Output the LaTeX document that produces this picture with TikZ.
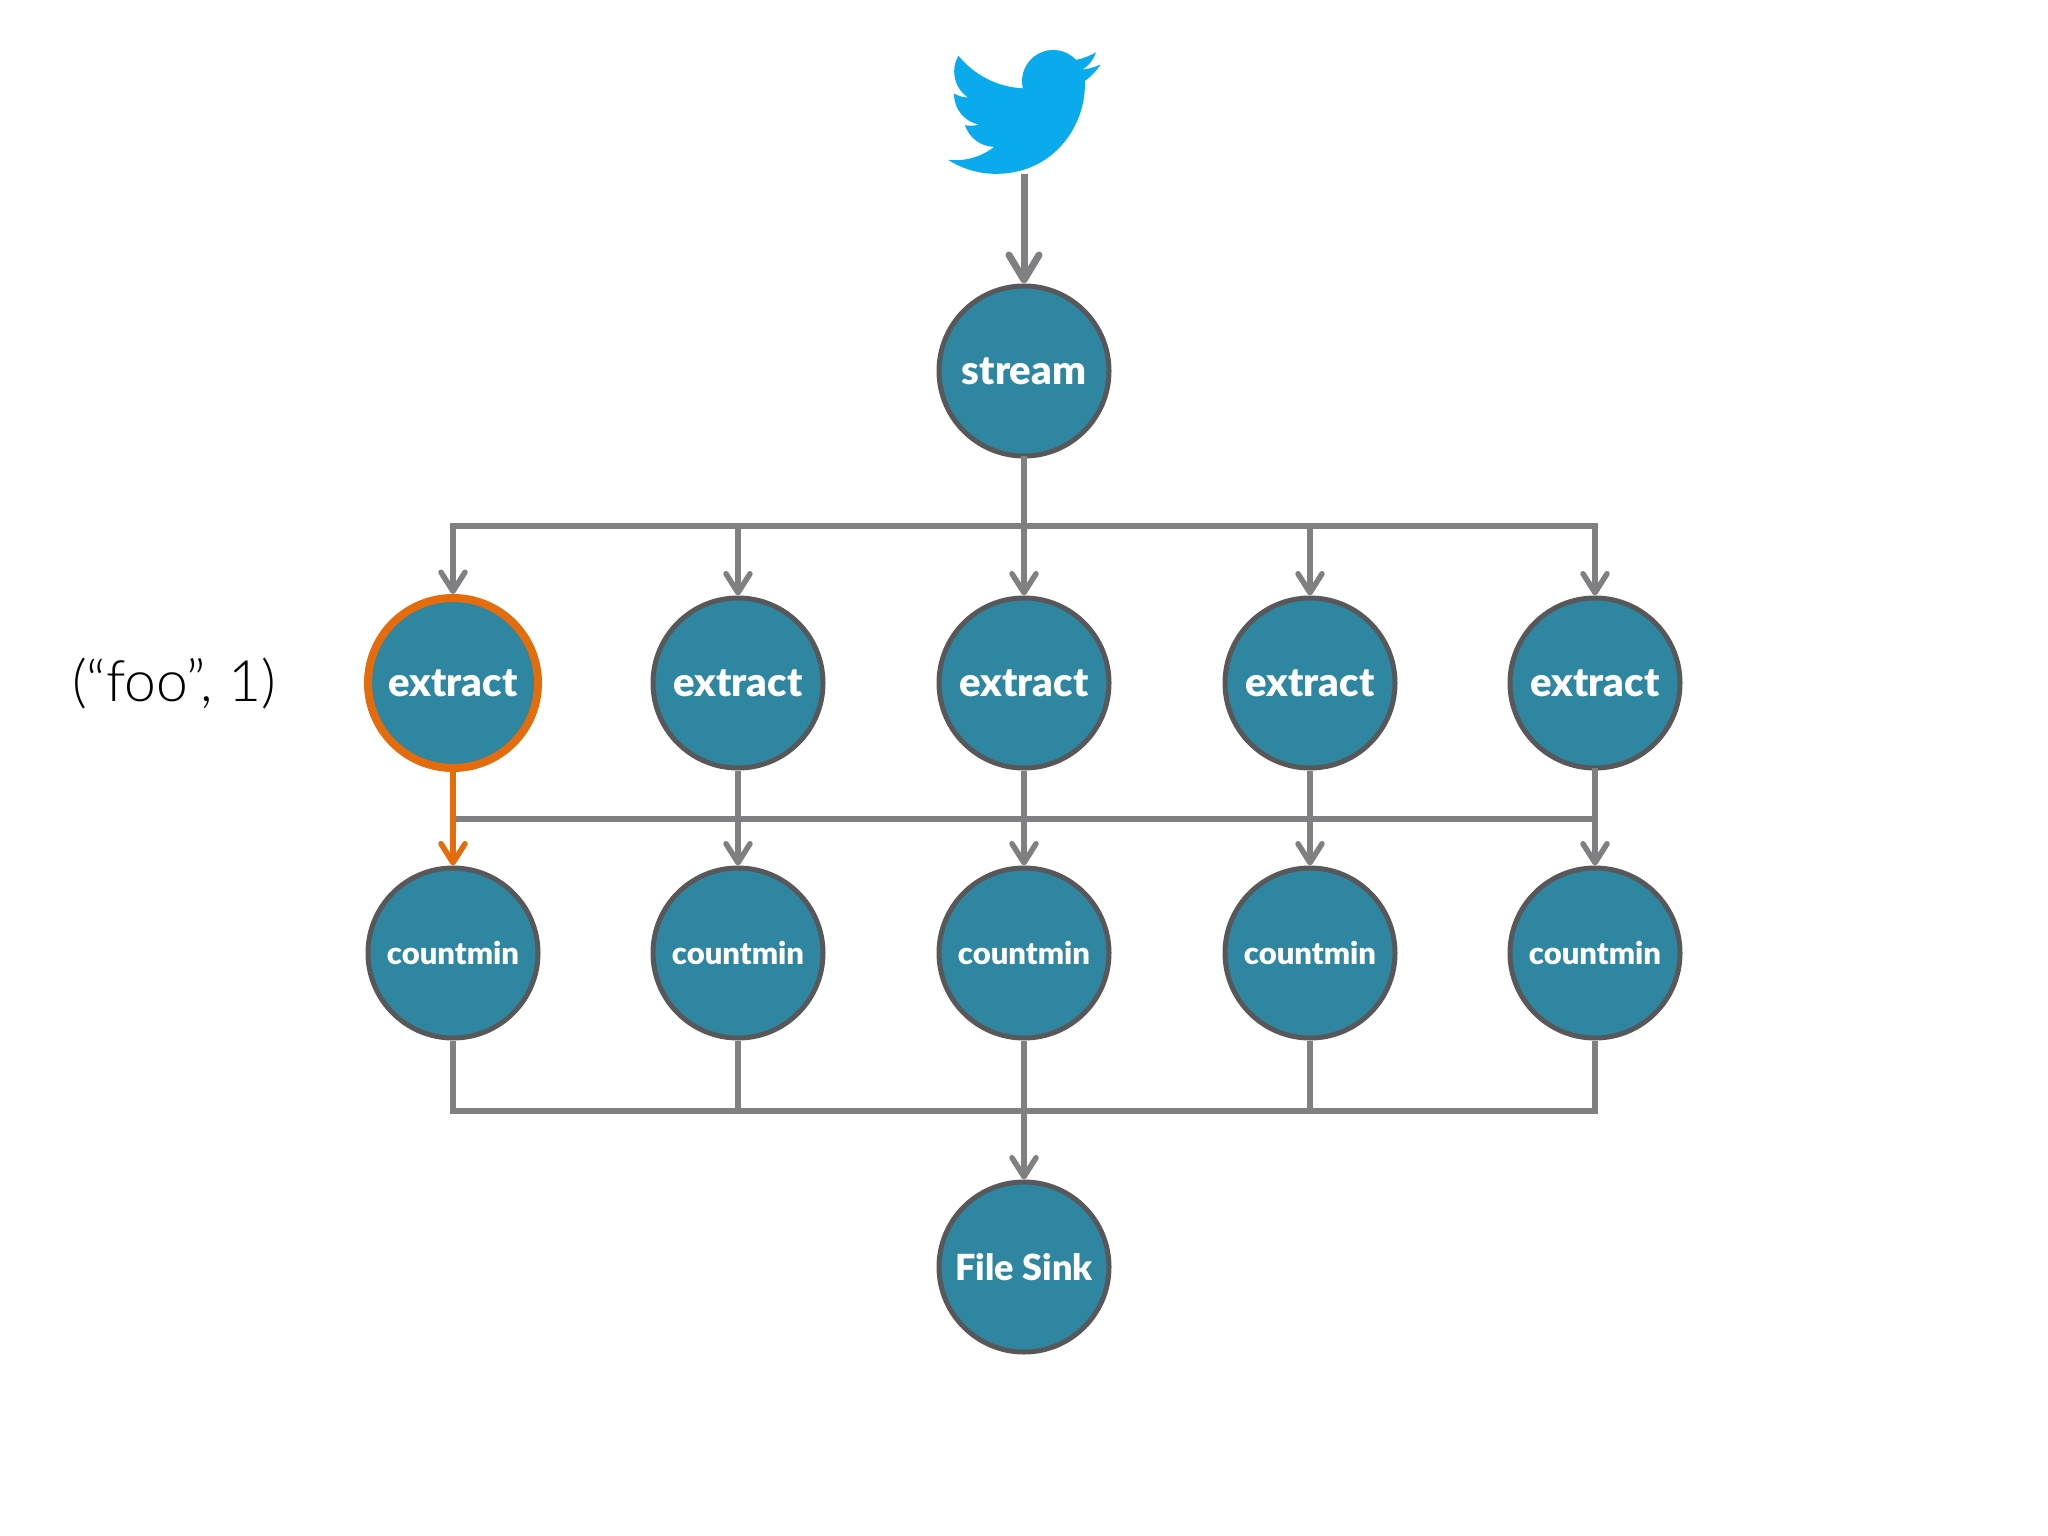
\documentclass[tikz,border=0pt]{standalone}
\usepackage{fontspec}
\setmainfont{Lato}
\newfontfamily\lightfont{Lato Light}
\newfontfamily\heavyfont{Lato Black}
\usetikzlibrary{arrows.meta}
\definecolor{teal0}{RGB}{46,134,160}
\definecolor{rim}{RGB}{88,88,90}
\definecolor{wire}{RGB}{128,128,130}
\definecolor{hot}{RGB}{228,108,12}
\definecolor{birdblue}{RGB}{10,171,237}
\begin{document}
\begin{tikzpicture}[x=1pt,y=-1pt,
  op/.style={circle,fill=teal0,draw=rim,line width=5,minimum size=170,inner sep=0,
    text=white,font=\heavyfont\fontsize{40}{44}\selectfont},
  opsmall/.style={op,font=\heavyfont\fontsize{31}{36}\selectfont},
  hotop/.style={op,draw=hot,line width=8},
  wireline/.style={draw=wire,line width=5.5,line cap=rect},
  arr/.style={draw=wire,line width=5.5,-{Straight Barb[length=19,width=24,round]}},
  bigarr/.style={draw=wire,line width=7,-{Straight Barb[length=25,width=30,round]}},
  hotarr/.style={arr,draw=hot}]
\useasboundingbox[fill=white] (0,0) rectangle (2048,1536);

% bird
\begin{scope}[shift={(948,35.7)},scale=6.35]
\fill[birdblue] (23.953,4.57)
 .. controls (23.050,4.968) and (22.108,5.226) .. (21.128,5.345)
 .. controls (22.189,4.708) and (22.910,3.800) .. (23.291,2.622)
 .. controls (22.340,3.177) and (21.286,3.581) .. (20.164,3.806)
 .. controls (18.643,2.179) and (16.215,1.777) .. (14.251,2.827)
 .. controls (12.287,3.877) and (11.272,6.120) .. (11.78,8.288)
 .. controls (7.69,8.095) and (4.067,6.13) .. (1.64,3.162)
 .. controls (1.191,3.926) and (0.969,4.751) .. (0.974,5.637)
 .. controls (0.974,7.347) and (1.844,8.850) .. (3.162,9.733)
 .. controls (2.369,9.708) and (1.627,9.502) .. (0.934,9.117)
 -- (0.934,9.177)
 .. controls (0.934,11.520) and (2.584,13.539) .. (4.88,14.004)
 .. controls (4.149,14.200) and (3.412,14.228) .. (2.668,14.089)
 .. controls (3.316,16.094) and (5.165,17.467) .. (7.272,17.506)
 .. controls (5.531,18.871) and (3.382,19.613) .. (1.17,19.611)
 .. controls (0.78,19.611) and (0.391,19.588) .. (0,19.544)
 .. controls (2.256,20.988) and (4.878,21.755) .. (7.557,21.753)
 .. controls (16.610,21.753) and (21.555,14.257) .. (21.555,7.768)
 .. controls (21.555,7.558) and (21.555,7.348) .. (21.540,7.138)
 .. controls (22.514,6.437) and (23.334,5.588) .. (24,4.59)
 -- cycle;
\end{scope}
\coordinate (bird) at (1024,174);

% nodes
\node[op] (stream) at (1024,371) {stream};
\node[hotop] (e1) at (453,683) {extract};
\node[op] (e2) at (738,683) {extract};
\node[op] (e3) at (1024,683) {extract};
\node[op] (e4) at (1310,683) {extract};
\node[op] (e5) at (1595,683) {extract};
\node[opsmall] (c1) at (453,953) {countmin};
\node[opsmall] (c2) at (738,953) {countmin};
\node[opsmall] (c3) at (1024,953) {countmin};
\node[opsmall] (c4) at (1310,953) {countmin};
\node[opsmall] (c5) at (1595,953) {countmin};
\node[op,font=\heavyfont\fontsize{36}{40}\selectfont] (sink) at (1024,1267) {File Sink};
\node[font=\lightfont\fontsize{57}{60}\selectfont] (lbl) at (174,684) {(“foo”, 1)};

\coordinate (j0) at (1024,526);
\coordinate (j1) at (1024,819);
\coordinate (j2) at (1024,1111);

% connectors
\draw[bigarr] (bird) -- (stream);
\draw[wireline] (stream) -- (j0);
\draw[wireline] (e1 |- j0) -- (e5 |- j0);
\foreach \n in {e1,e2,e3,e4,e5} \draw[arr] (\n |- j0) -- (\n);
\draw[wireline] (e1 |- j1) -- (e5 |- j1);
\draw[wireline] (e5) -- (e5 |- j1);
\foreach \n/\m in {e2/c2,e3/c3,e4/c4,e5/c5} \draw[arr] (\n) -- (\m);
\draw[hotarr] (e1) -- (c1);
\draw[wireline,line cap=butt,line join=miter] (c1) |- (j2) -| (c5);
\foreach \n in {c2,c3,c4} \draw[wireline,line cap=butt] (\n) -- (\n |- j2);
\draw[arr] (j2) -- (sink);
\end{tikzpicture}
\end{document}
